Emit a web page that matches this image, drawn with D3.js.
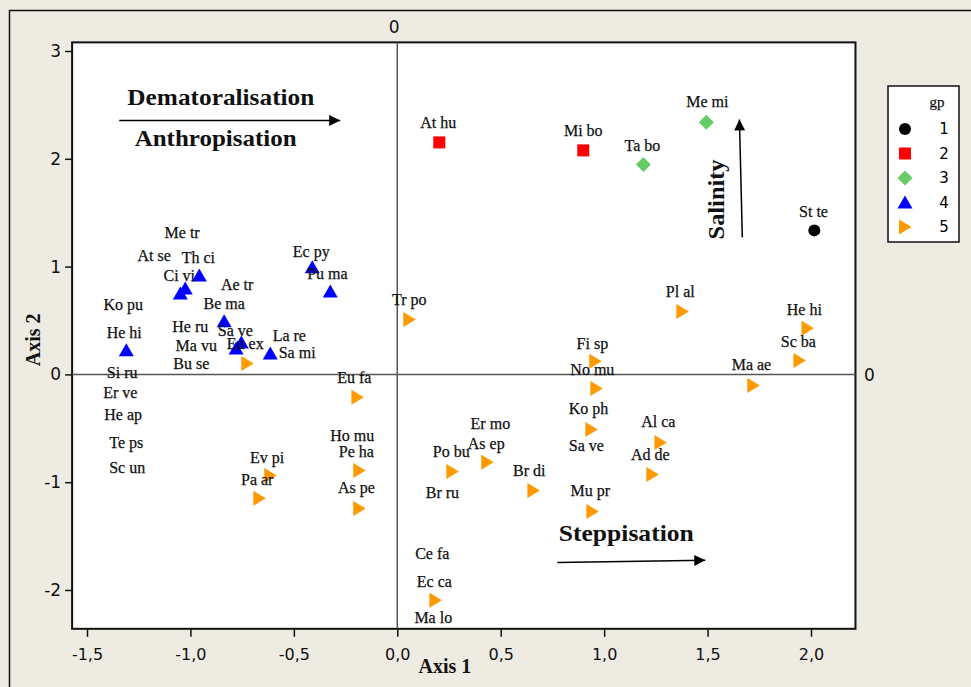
<!DOCTYPE html>
<html>
<head>
<meta charset="utf-8">
<script src="https://cdn.jsdelivr.net/npm/d3@7"></script>
<style>
body { margin: 0; background: #EEEBE2; }
svg { display: block; }
.lbl { font-family: "Liberation Serif", serif; font-size: 16px; fill: #111; stroke: #111; stroke-width: 0.25px; }
.tick text { font-family: "DejaVu Sans", sans-serif; font-size: 16px; fill: #111; }
.note { font-family: "Liberation Serif", serif; font-weight: bold; font-size: 23px; fill: #111; }
.atitle { font-family: "Liberation Serif", serif; font-weight: bold; font-size: 20px; fill: #111; }
</style>
</head>
<body>
<div id="chart"></div>
<script>

var W = 971, H = 687;

// group markers [x, y] (Axis 1, Axis 2)
var gp1 = [[2.016, 1.336]];
var gp2 = [[0.203, 2.152], [0.899, 2.078]];
var gp3 = [[1.494, 2.338], [1.190, 1.948]];
var gp4 = [[-1.310, 0.223], [-1.049, 0.751], [-1.025, 0.798], [-0.957, 0.918], [-0.837, 0.492],
           [-0.779, 0.241], [-0.754, 0.297], [-0.614, 0.195], [-0.411, 0.993], [-0.324, 0.770]];
var gp5 = [[-0.725, 0.102], [-0.193, -0.213], [-0.614, -0.937], [-0.667, -1.150], [-0.184, -0.891],
           [-0.184, -1.243], [0.058, 0.510], [0.266, -0.900], [0.435, -0.816], [0.658, -1.076],
           [0.184, -2.096], [0.957, 0.121], [0.962, -0.130], [0.938, -0.510], [0.943, -1.271],
           [1.272, -0.631], [1.233, -0.928], [1.378, 0.584], [1.721, -0.102], [1.944, 0.130],
           [1.983, 0.427]];

// species labels [name, x, y]
var labels = [
  ["St te", 2.012, 1.512], ["At hu", 0.198, 2.338], ["Mi bo", 0.899, 2.263], ["Me mi", 1.499, 2.532],
  ["Ta bo", 1.185, 2.124], ["Me tr", -1.040, 1.317], ["At se", -1.175, 1.104], ["Th ci", -0.962, 1.085],
  ["Ci vi", -1.054, 0.918], ["Ae tr", -0.774, 0.835], ["Ko pu", -1.325, 0.649], ["Be ma", -0.837, 0.659],
  ["He hi", -1.320, 0.390], ["He ru", -1.001, 0.445], ["Sa ve", -0.783, 0.408], ["La re", -0.522, 0.362],
  ["Ma vu", -0.972, 0.269], ["Eu ex", -0.735, 0.288], ["Sa mi", -0.484, 0.204], ["Bu se", -0.996, 0.102],
  ["Si ru", -1.330, 0.019], ["Er ve", -1.339, -0.167], ["He ap", -1.325, -0.371], ["Te ps", -1.310, -0.631],
  ["Sc un", -1.306, -0.863], ["Ec py", -0.416, 1.141], ["Pu ma", -0.338, 0.937], ["Tr po", 0.058, 0.696],
  ["Eu fa", -0.208, -0.028], ["Ev pi", -0.629, -0.770], ["Pa ar", -0.677, -0.974], ["Ho mu", -0.218, -0.566],
  ["Pe ha", -0.198, -0.714], ["As pe", -0.198, -1.048], ["Er mo", 0.450, -0.455], ["As ep", 0.430, -0.640],
  ["Po bu", 0.261, -0.714], ["Br ru", 0.218, -1.095], ["Br di", 0.638, -0.891], ["Ce fa", 0.169, -1.660],
  ["Ec ca", 0.179, -1.920], ["Ma lo", 0.174, -2.254], ["Pl al", 1.368, 0.770], ["He hi", 1.968, 0.603],
  ["Sc ba", 1.939, 0.306], ["Ma ae", 1.712, 0.093], ["Fi sp", 0.943, 0.288], ["No mu", 0.943, 0.046],
  ["Ko ph", 0.924, -0.315], ["Sa ve", 0.914, -0.659], ["Al ca", 1.262, -0.436], ["Ad de", 1.223, -0.742],
  ["Mu pr", 0.933, -1.076]
];

var xTicks = [-1.5, -1.0, -0.5, 0.0, 0.5, 1.0, 1.5, 2.0];
var yTicks = [-2, -1, 0, 1, 2, 3];
var xLim = [-1.572, 2.215];
var yLim = [-2.36, 3.08];

var groups = ["1", "2", "3", "4", "5"];
var groupColors = ["#000000", "#FF0000", "#66CC66", "#0000FF", "#FF9900"];

// annotation arrows [x1, y1, x2, y2] in axis units
var arrowDem = [-1.344, 2.356, -0.276, 2.356];
var arrowSal = [1.668, 1.271, 1.654, 2.365];
var arrowStep = [0.774, -1.744, 1.489, -1.725];

var svg = d3.select('#chart')
  .append('svg')
  .attr('width', W)
  .attr('height', H);

svg.append('defs').append('marker')
  .attr('id', 'head')
  .attr('viewBox', '0 0 10 10')
  .attr('refX', 10).attr('refY', 5)
  .attr('markerWidth', 15).attr('markerHeight', 11)
  .attr('markerUnits', 'userSpaceOnUse')
  .attr('orient', 'auto')
  .append('path').attr('d', 'M0,0L10,5L0,10Z').attr('fill', '#000');

// outer frame
svg.append('rect')
  .attr('x', 9.5).attr('y', 10.5)
  .attr('width', W + 10).attr('height', H + 10)
  .attr('fill', '#EEEBE2')
  .attr('stroke', '#111').attr('stroke-width', 1.5);

var x = d3.scaleLinear().domain([-1.5, 2.0]).range([87, 811]);
var y = d3.scaleLinear().domain([-2, 3]).range([590, 51]);

var px0 = x(xLim[0]), px1 = x(xLim[1]), py0 = y(yLim[1]), py1 = y(yLim[0]);

svg.append('rect')
  .attr('x', px0).attr('y', py0)
  .attr('width', px1 - px0).attr('height', py1 - py0)
  .attr('fill', '#fff')
  .attr('stroke', '#111').attr('stroke-width', 2);

// zero lines
svg.append('line')
  .attr('x1', x(0)).attr('x2', x(0))
  .attr('y1', py0).attr('y2', py1)
  .attr('stroke', '#555').attr('stroke-width', 1.5);
svg.append('line')
  .attr('x1', px0).attr('x2', px1)
  .attr('y1', y(0)).attr('y2', y(0))
  .attr('stroke', '#555').attr('stroke-width', 1.5);

var xAxis = d3.axisBottom(x)
  .tickValues(xTicks)
  .tickFormat(function(d){ return d3.format('.1f')(d).replace('.', ',').replace('−', '-'); })
  .tickSize(8)
  .tickPadding(12)
  .tickSizeOuter(0);

var yAxis = d3.axisLeft(y)
  .tickValues(yTicks)
  .tickFormat(function(d){ return String(d); })
  .tickSize(7)
  .tickPadding(4)
  .tickSizeOuter(0);

var gx = svg.append('g')
  .attr('transform', 'translate(0,' + py1 + ')')
  .call(xAxis);
gx.select('.domain').remove();
gx.selectAll('.tick line').attr('stroke', '#111').attr('stroke-width', 1.5);

var gy = svg.append('g')
  .attr('transform', 'translate(' + px0 + ',0)')
  .call(yAxis);
gy.select('.domain').remove();
gy.selectAll('.tick line').attr('stroke', '#111').attr('stroke-width', 1.5);
gy.selectAll('.tick text').style('font-size', '17px');

// "0" marks of the zero lines
svg.append('text')
  .attr('x', x(0) - 3).attr('y', py0 - 9)
  .attr('text-anchor', 'middle')
  .style('font-family', 'DejaVu Sans').style('font-size', '17px').style('fill', '#111')
  .text('0');
svg.append('text')
  .attr('x', px1 + 14).attr('y', y(0) + 7)
  .attr('text-anchor', 'middle')
  .style('font-family', 'DejaVu Sans').style('font-size', '17px').style('fill', '#111')
  .text('0');

// axis titles
svg.append('text').attr('class', 'atitle')
  .attr('x', x(0.23)).attr('y', py1 + 44)
  .attr('text-anchor', 'middle')
  .text('Axis 1');
svg.append('text').attr('class', 'atitle')
  .attr('transform', 'translate(40,' + y(0.32) + ') rotate(-90)')
  .attr('text-anchor', 'middle')
  .text('Axis 2');

// markers
var circle = function(s){ return 'M' + (-s/2) + ',0a' + s/2 + ',' + s/2 + ' 0 1,0 ' + s + ',0a' + s/2 + ',' + s/2 + ' 0 1,0 ' + (-s) + ',0Z'; };
var shapes = [
  function(){ return circle(12); },
  function(){ return 'M-6,-6H6V6H-6Z'; },
  function(){ return 'M0,-7.5L7.5,0L0,7.5L-7.5,0Z'; },
  function(){ return 'M0,-7L7.5,6H-7.5Z'; },
  function(){ return 'M-6,-7.5L6.5,0L-6,7.5Z'; }
];
var allGroups = [gp1, gp2, gp3, gp4, gp5];

allGroups.forEach(function(pts, gi){
  svg.selectAll('.g' + gi)
    .data(pts)
    .enter().append('path')
    .attr('class', 'g' + gi)
    .attr('d', shapes[gi]())
    .attr('transform', function(d){ return 'translate(' + x(d[0]) + ',' + y(d[1]) + ')'; })
    .attr('fill', groupColors[gi]);
});

svg.selectAll('.sp')
  .data(labels)
  .enter().append('text')
  .attr('class', 'lbl sp')
  .attr('x', function(d){ return x(d[1]); })
  .attr('y', function(d){ return y(d[2]); })
  .attr('dy', '0.35em')
  .attr('text-anchor', 'middle')
  .text(function(d){ return d[0]; });

// annotations
function arrow(a){
  svg.append('line')
    .attr('x1', x(a[0])).attr('y1', y(a[1]))
    .attr('x2', x(a[2])).attr('y2', y(a[3]))
    .attr('stroke', '#000').attr('stroke-width', 1.5)
    .attr('marker-end', 'url(#head)');
}
arrow(arrowDem);
arrow(arrowSal);
arrow(arrowStep);

svg.append('text').attr('class', 'note')
  .attr('x', x(-0.853)).attr('y', y(2.495))
  .attr('text-anchor', 'middle')
  .attr('textLength', 187).attr('lengthAdjust', 'spacingAndGlyphs')
  .text('Dematoralisation');
svg.append('text').attr('class', 'note')
  .attr('x', x(-0.878)).attr('y', y(2.115))
  .attr('text-anchor', 'middle')
  .attr('textLength', 162).attr('lengthAdjust', 'spacingAndGlyphs')
  .text('Anthropisation');
svg.append('text').attr('class', 'note')
  .attr('x', x(1.107)).attr('y', y(-1.549))
  .attr('text-anchor', 'middle')
  .attr('textLength', 135).attr('lengthAdjust', 'spacingAndGlyphs')
  .text('Steppisation');
svg.append('text').attr('class', 'note')
  .attr('transform', 'translate(' + x(1.581) + ',' + y(1.623) + ') rotate(-90)')
  .attr('text-anchor', 'middle')
  .attr('textLength', 80).attr('lengthAdjust', 'spacingAndGlyphs')
  .text('Salinity');

// legend
var legend = svg.append('g').attr('transform', 'translate(888,86)');
legend.append('rect')
  .attr('width', 71).attr('height', 156)
  .attr('fill', '#fff')
  .attr('stroke', '#111').attr('stroke-width', 1.5);
legend.append('text').attr('class', 'lbl')
  .attr('x', 49).attr('y', 21)
  .attr('text-anchor', 'middle')
  .style('font-size', '15px')
  .text('gp');

var item = legend.selectAll('.item')
  .data(groups)
  .enter().append('g')
  .attr('class', 'item')
  .attr('transform', function(d, i){ return 'translate(0,' + (43 + i * 24.5) + ')'; });
item.append('path')
  .attr('d', function(d, i){ return shapes[i](); })
  .attr('transform', 'translate(17,0)')
  .attr('fill', function(d, i){ return groupColors[i]; });
item.append('text')
  .attr('x', 56).attr('dy', '0.36em')
  .attr('text-anchor', 'middle')
  .style('font-family', 'DejaVu Sans').style('font-size', '15px')
  .text(function(d){ return d; });

</script>
</body>
</html>
